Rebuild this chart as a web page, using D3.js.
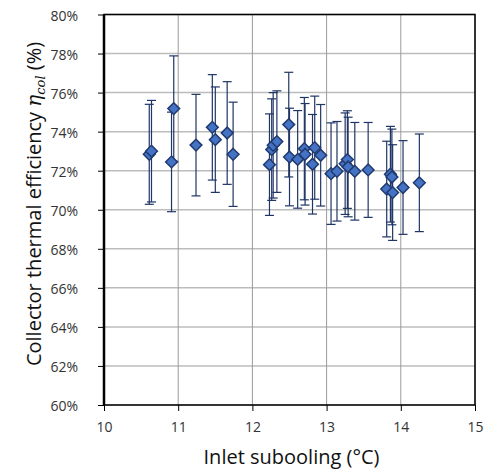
<!DOCTYPE html>
<html>
<head>
<meta charset="utf-8">
<script src="https://cdn.jsdelivr.net/npm/d3@7"></script>
<style>
  body { margin: 0; background: #fff; }
  text { font-family: "Open Sans", "Noto Sans", sans-serif; }
</style>
</head>
<body>
<script>
// measured points (inlet subcooling in °C, efficiency in %)
var subcooling = [10.61, 10.64, 10.94, 10.91, 11.24, 11.46, 11.50, 11.66, 11.74,
    12.23, 12.26, 12.28, 12.33, 12.49, 12.50, 12.61, 12.70, 12.71, 12.81, 12.84, 12.92,
    13.06, 13.14, 13.25, 13.28, 13.29, 13.38, 13.56, 13.81, 13.86, 13.88, 13.89, 14.03, 14.25];
var efficiency = [72.84, 73.00, 75.18, 72.45, 73.31, 74.22, 73.59, 73.93, 72.84,
    72.31, 73.08, 73.30, 73.49, 74.36, 72.70, 72.58, 73.13, 72.84, 72.33, 73.18, 72.79,
    71.85, 71.97, 72.36, 72.57, 72.19, 71.97, 72.04, 71.06, 71.82, 71.68, 70.88, 71.14, 71.38];
var uncertainty = [2.56, 2.60, 2.70, 2.55, 2.60, 2.70, 2.70, 2.63, 2.67,
    2.60, 2.60, 2.70, 2.60, 2.68, 2.50, 2.50, 2.62, 2.60, 2.55, 2.64, 2.60,
    2.60, 2.55, 2.60, 2.50, 2.55, 2.50, 2.43, 2.45, 2.45, 2.45, 2.45, 2.40, 2.50];

var xTicks = [10, 11, 12, 13, 14, 15];
var yTicks = [60, 62, 64, 66, 68, 70, 72, 74, 76, 78, 80];

var colorMarker = '#4472c4',
    colorEdge = '#203a6e',
    colorBar = '#1f3566';

var width = 485, height = 472;
var plot = { left: 104, right: 475, top: 14.5, bottom: 405 };

var points = subcooling.map(function (d, i) {
    return { x: d, y: efficiency[i], e: uncertainty[i] };
});

var svg = d3.select('body').append('svg')
    .attr('width', width)
    .attr('height', height);

var x = d3.scaleLinear().domain([10, 15]).range([plot.left, plot.right]);
var y = d3.scaleLinear().domain([60, 80]).range([plot.bottom, plot.top]);

// gridlines
svg.append('g').selectAll('line').data(yTicks).enter().append('line')
    .attr('x1', plot.left).attr('x2', plot.right)
    .attr('y1', function (d) { return y(d); })
    .attr('y2', function (d) { return y(d); })
    .attr('stroke', '#bcbcbc')
    .attr('stroke-width', 1.5);

svg.append('g').selectAll('line').data(xTicks).enter().append('line')
    .attr('x1', function (d) { return x(d); })
    .attr('x2', function (d) { return x(d); })
    .attr('y1', plot.top).attr('y2', plot.bottom)
    .attr('stroke', '#9a9a9a')
    .attr('stroke-width', 1);

// axes
var yAxis = d3.axisLeft(y).tickValues(yTicks).tickSize(6)
    .tickFormat(function (d) { return d + '%'; });
var xAxis = d3.axisBottom(x).tickValues(xTicks).tickSize(6)
    .tickFormat(d3.format('d'));

var gy = svg.append('g').attr('transform', 'translate(' + plot.left + ',0)').call(yAxis);
var gx = svg.append('g').attr('transform', 'translate(0,' + plot.bottom + ')').call(xAxis);
gy.select('.domain').remove();
gx.select('.domain').remove();
gy.selectAll('line').attr('stroke', '#000');
gx.selectAll('line').attr('stroke', '#000');
gy.selectAll('text')
    .attr('x', -26)
    .attr('dy', '0.4em')
    .attr('font-size', 14)
    .attr('fill', '#333')
    .style('font-family', '"Open Sans", sans-serif');
gx.selectAll('text')
    .attr('y', 17)
    .attr('dy', '0.71em')
    .attr('font-size', 14)
    .attr('fill', '#333')
    .style('font-family', '"Open Sans", sans-serif');

// plot border
svg.append('rect')
    .attr('x', plot.left).attr('y', plot.top)
    .attr('width', plot.right - plot.left)
    .attr('height', plot.bottom - plot.top)
    .attr('fill', 'none')
    .attr('stroke', '#000')
    .attr('stroke-width', 1.5);
svg.append('line')
    .attr('x1', plot.left).attr('x2', plot.left)
    .attr('y1', plot.top).attr('y2', plot.bottom)
    .attr('stroke', '#000')
    .attr('stroke-width', 2.5);

// error bars
var bars = svg.append('g').selectAll('g').data(points).enter().append('g')
    .attr('stroke', colorBar)
    .attr('stroke-width', 1.2);
bars.append('line')
    .attr('x1', function (d) { return x(d.x); })
    .attr('x2', function (d) { return x(d.x); })
    .attr('y1', function (d) { return y(d.y - d.e); })
    .attr('y2', function (d) { return y(d.y + d.e); });
bars.append('line')
    .attr('x1', function (d) { return x(d.x) - 4.5; })
    .attr('x2', function (d) { return x(d.x) + 4.5; })
    .attr('y1', function (d) { return y(d.y + d.e); })
    .attr('y2', function (d) { return y(d.y + d.e); });
bars.append('line')
    .attr('x1', function (d) { return x(d.x) - 4.5; })
    .attr('x2', function (d) { return x(d.x) + 4.5; })
    .attr('y1', function (d) { return y(d.y - d.e); })
    .attr('y2', function (d) { return y(d.y - d.e); });

// markers
var diamond = d3.symbol().type(d3.symbolDiamond2).size(88);
svg.append('g').selectAll('path').data(points).enter().append('path')
    .attr('d', diamond)
    .attr('transform', function (d) { return 'translate(' + x(d.x) + ',' + y(d.y) + ')'; })
    .attr('fill', colorMarker)
    .attr('stroke', colorEdge)
    .attr('stroke-width', 1.5);

// axis titles
svg.append('text')
    .attr('x', (plot.left + plot.right) / 2 + 2)
    .attr('y', 464)
    .attr('text-anchor', 'middle')
    .attr('font-size', 20)
    .attr('fill', '#111')
    .text('Inlet subooling (°C)');

var yt = svg.append('text')
    .attr('transform', 'translate(41,' + 204 + ') rotate(-90)')
    .attr('text-anchor', 'middle')
    .attr('font-size', 20)
    .attr('fill', '#111');
yt.append('tspan').text('Collector thermal efficiency ');
yt.append('tspan').attr('font-style', 'italic')
    .style('font-family', '"DejaVu Serif", serif').text('η');
yt.append('tspan').attr('font-style', 'italic').attr('font-size', 13).attr('dy', 4)
    .style('font-family', '"DejaVu Serif", serif').text('col');
yt.append('tspan').attr('dy', -4).text(' (%)');
</script>
</body>
</html>
